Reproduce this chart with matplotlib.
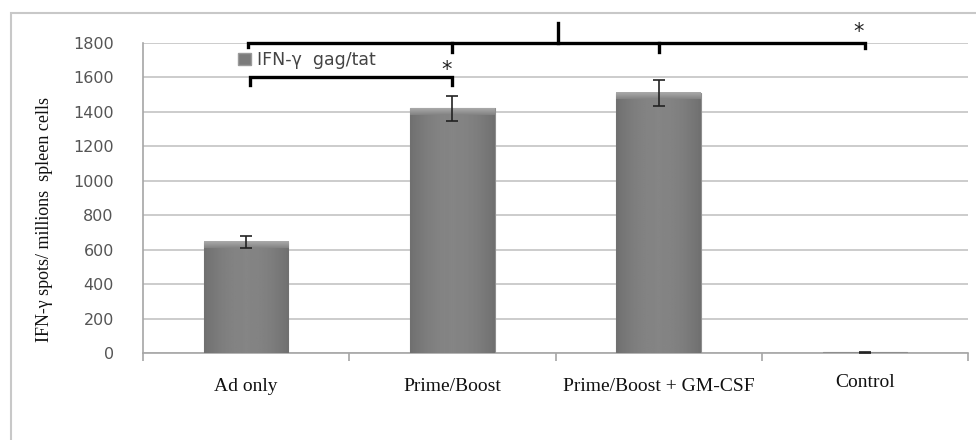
import numpy as np
import matplotlib.pyplot as plt
from matplotlib.patches import Patch, Rectangle

groups = ["Ad only", "Prime/Boost", "Prime/Boost + GM-CSF", "Control"]
spots = [645, 1420, 1510, 3]
errs = [35, 70, 75, 3]
label_y = [-197, -197, -197, -170]
yticks = [0, 200, 400, 600, 800, 1000, 1200, 1400, 1600, 1800]
series_name = "IFN-\u03b3  gag/tat"

fig = plt.figure(figsize=(9.76, 4.4), dpi=100)
ax = fig.add_axes([143 / 976, 1 - 353 / 440, 825 / 976, 310 / 440])

x = np.arange(len(groups))
bars = ax.bar(x, spots, width=0.41, color="#7b7b7b", edgecolor="#8e8e8e", linewidth=0.8, zorder=3)

# shaded fill inside each bar, darker at the sides, light bevel at the top
px_per_unit = 310 / 1800
gx = np.linspace(-1, 1, 64)
shade = 0.52 - 0.08 * gx ** 2
for b in bars:
    h = b.get_height()
    if h < 20:
        continue
    x0 = b.get_x()
    x1 = x0 + b.get_width()
    rows = int(round(h * px_per_unit))
    img = np.tile(shade, (rows, 1))
    for r, v in enumerate(np.linspace(0.66, 0.52, 7)):
        img[r, :] = np.maximum(img[r, :], v)
    ax.imshow(img, extent=[x0, x1, 0, h], aspect="auto", cmap="gray", vmin=0, vmax=1,
              origin="upper", clip_path=b, zorder=3.5, interpolation="bilinear")
ax.errorbar(x, spots, yerr=errs, fmt="none", ecolor="#222222", elinewidth=1.2,
            capsize=4, capthick=1.2, zorder=4)

ax.set_xlim(-0.5, 3.5)
ax.set_ylim(0, 1800)
ax.set_yticks(yticks)
ax.yaxis.grid(True, color="#c4c4c4", linewidth=1.2, zorder=0)
ax.set_axisbelow(True)
for s in ["top", "right"]:
    ax.spines[s].set_visible(False)
for s in ["left", "bottom"]:
    ax.spines[s].set_color("#a6a6a6")
    ax.spines[s].set_linewidth(1.2)

ax.tick_params(axis="y", length=0, pad=21, labelsize=11.5, labelcolor="#555555")
ax.set_yticklabels([str(v) for v in yticks], family="DejaVu Sans")
# category labels sit between the tick marks
ax.set_xticks(np.arange(-0.5, 4.0, 1.0))
ax.set_xticklabels([])
ax.tick_params(axis="x", length=6, color="#a6a6a6", width=1.2)
for i, g in enumerate(groups):
    ax.text(i, label_y[i], g, ha="center", va="center", family="Liberation Serif",
            fontsize=14, color="#111111")

fig.text(45 / 976, 1 - 219 / 440, "IFN-\u03b3 spots/ millions  spleen cells",
         rotation=90, ha="center", va="center", family="Liberation Serif",
         fontsize=13, color="#111111")

ax.legend([Patch(facecolor="#7b7b7b", edgecolor="#9a9a9a")], [series_name],
          loc="center left", bbox_to_anchor=(0.105, 0.945), frameon=False,
          handlelength=0.75, handleheight=0.75, handletextpad=0.3, borderpad=0,
          prop={"family": "DejaVu Sans", "size": 12.5}, labelcolor="#444444")

# significance brackets
lw = 2.4
ax.plot([0.01, 0.01, 3.0, 3.0], [1778, 1800, 1800, 1771], color="black", lw=lw,
        clip_on=False, zorder=5, solid_joinstyle="miter")
for xb in [1.0, 2.0]:
    ax.plot([xb, xb], [1800, 1748], color="black", lw=lw, clip_on=False, zorder=5)
ax.plot([1.51, 1.51], [1800, 1916], color="black", lw=lw, clip_on=False, zorder=5)
ax.text(2.97, 1862, "*", ha="center", va="center", fontsize=15, color="#222222")

ax.plot([0.02, 0.02, 1.0, 1.0], [1556, 1600, 1600, 1556], color="black", lw=lw,
        zorder=5, solid_joinstyle="miter")
ax.text(0.97, 1645, "*", ha="center", va="center", fontsize=15, color="#222222")

# chart area border
fig.patches.append(Rectangle((11 / 976, -0.1), 1.2, 1.1 - 13 / 440, transform=fig.transFigure,
                             fill=False, edgecolor="#c8c8c8", linewidth=1.5))

fig.savefig("out.png", dpi=100)
